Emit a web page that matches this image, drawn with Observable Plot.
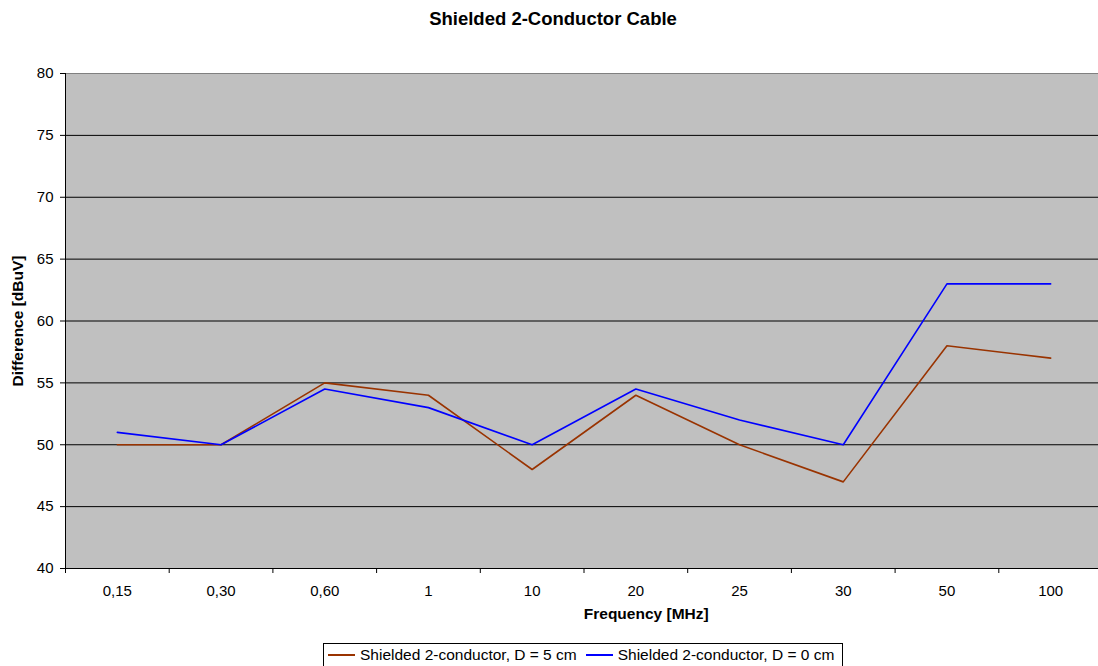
<!DOCTYPE html>
<html>
<head>
<meta charset="utf-8">
<script src="https://cdn.jsdelivr.net/npm/d3@7"></script>
<script src="https://cdn.jsdelivr.net/npm/@observablehq/plot@0.6"></script>
<style>
  html, body { margin: 0; padding: 0; background: #fff; }
  body { width: 1098px; height: 666px; position: relative; overflow: hidden; font-family: "Liberation Sans", Arial, sans-serif; }
  #title { position: absolute; left: 0; top: 8px; width: 1106px; text-align: center; font-weight: bold; font-size: 18.5px; color: #000; }
  #chart { position: absolute; left: 0; top: 40px; }
  #legend { position: absolute; left: 323px; top: 643px; width: 520px; height: 23px; border: 1px solid #000; border-bottom: none; background: #fff; font-size: 15.5px; display: flex; align-items: center; box-sizing: border-box; padding-left: 4px; color: #000; }
  .item { display: flex; align-items: center; margin-right: 9px; white-space: nowrap; }
  .swatch { width: 27px; height: 2px; margin-right: 5px; }
</style>
</head>
<body>
<div id="title">Shielded 2-Conductor Cable</div>
<div id="chart"></div>
<div id="legend"></div>
<script>
const categories = ["0,15", "0,30", "0,60", "1", "10", "20", "25", "30", "50", "100"];
const seriesNames = ["Shielded 2-conductor, D = 5 cm", "Shielded 2-conductor, D = 0 cm"];
const seriesColors = ["#993300", "#0000FF"];
const d5cm = [50, 50, 55, 54, 48, 54, 50, 47, 58, 57];
const d0cm = [51, 50, 54.5, 53, 50, 54.5, 52, 50, 63, 63];
const yTicks = [40, 45, 50, 55, 60, 65, 70, 75, 80];
const gridValues = [45, 50, 55, 60, 65, 70, 75];

const rows = [];
[d5cm, d0cm].forEach((vals, s) => vals.forEach((v, i) => rows.push({i, v, series: seriesNames[s]})));
const boundaries = categories.map((_, i) => i - 0.5).concat([categories.length - 0.5]);

const chart = Plot.plot({
  width: 1098,
  height: 590,
  marginLeft: 65,
  marginRight: 0,
  marginTop: 33,
  marginBottom: 62,
  style: {fontFamily: "Liberation Sans, Arial, sans-serif", fontSize: "15px", color: "#000", background: "transparent"},
  x: {domain: [-0.5, categories.length - 0.5], range: [65, 1102]},
  y: {domain: [40, 80]},
  color: {domain: seriesNames, range: seriesColors},
  marks: [
    Plot.frame({fill: "#C0C0C0", stroke: null}),
    Plot.ruleY(gridValues, {stroke: "#000", strokeWidth: 1}),
    Plot.ruleY([80], {stroke: "#808080", strokeWidth: 1}),
    Plot.line(rows, {x: "i", y: "v", z: "series", stroke: "series", strokeWidth: 1.6}),
    Plot.axisY({ticks: yTicks, tickSize: 5, tickPadding: 7, fontSize: 15, label: null}),
    Plot.ruleX([-0.5], {stroke: "#000"}),
    Plot.ruleY([40], {stroke: "#000"}),
    Plot.axisX({ticks: boundaries, tickFormat: () => "", tickSize: 5, label: null}),
    Plot.axisX({ticks: d3.range(categories.length), tickFormat: i => categories[i], tickSize: 0, tickPadding: 17, fontSize: 15, label: null}),
    Plot.text(["Frequency [MHz]"], {frameAnchor: "bottom", x: 5.1, dy: 50, fontWeight: "bold", fontSize: 15.5}),
    Plot.text(["Difference [dBuV]"], {frameAnchor: "left", textAnchor: "middle", y: 60, dx: -47, rotate: -90, fontWeight: "bold", fontSize: 15.5})
  ]
});
document.getElementById("chart").appendChild(chart);

const legend = document.getElementById("legend");
seriesNames.forEach((name, k) => {
  const item = document.createElement("div");
  item.className = "item";
  const sw = document.createElement("div");
  sw.className = "swatch";
  sw.style.background = seriesColors[k];
  item.appendChild(sw);
  const t = document.createElement("span");
  t.textContent = name;
  item.appendChild(t);
  legend.appendChild(item);
});
</script>
</body>
</html>
